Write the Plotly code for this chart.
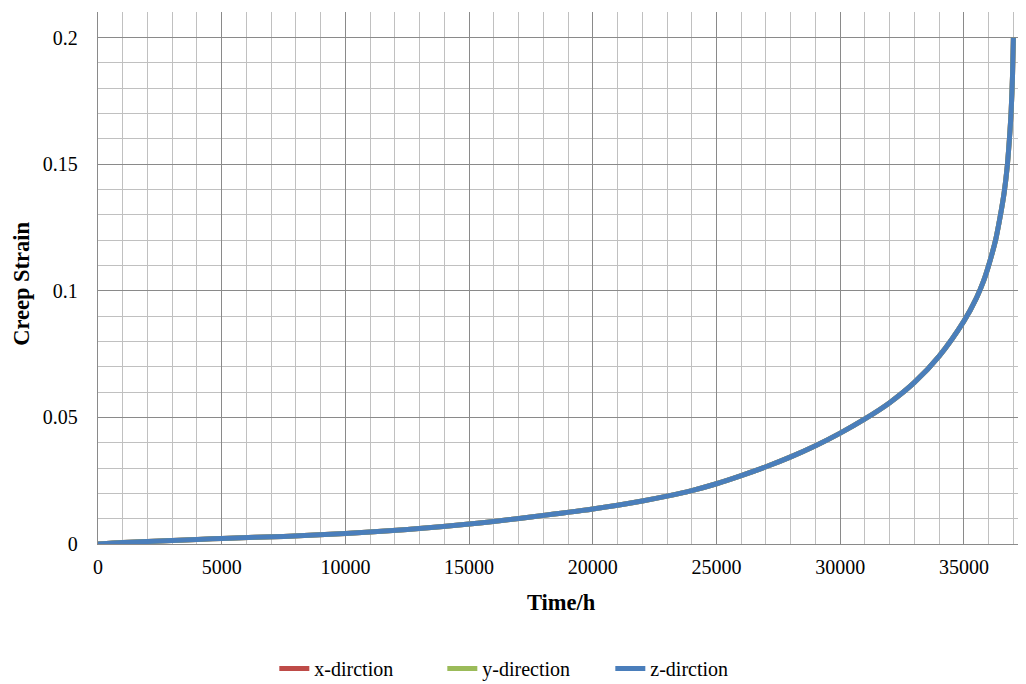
import plotly.graph_objects as go

# Time (h)
time_h = [0, 1000, 2000, 3000, 4000, 5000, 7500, 10000, 12500, 15000, 17500,
          20000, 22000, 23000, 24000, 25000, 26000, 27000, 28000, 29000, 30000,
          31000, 32000, 33000, 34000, 35000, 35500, 35800, 36030, 36280,
          36460, 36630, 36750, 36840, 36910, 36965, 37000]

# Creep strain per direction (curves coincide in the reference)
x_strain = [0, 0.0006, 0.0010, 0.0014, 0.0018, 0.0022, 0.0030, 0.0041, 0.0057,
            0.0079, 0.0107, 0.0138, 0.0170, 0.0189, 0.0211, 0.0238, 0.0270,
            0.0305, 0.0344, 0.0388, 0.0438, 0.0494, 0.0558, 0.0638, 0.0742,
            0.0880, 0.0970, 0.1040, 0.1110, 0.1200, 0.1290, 0.1390, 0.1490,
            0.1600, 0.1710, 0.1850, 0.2000]
y_strain = list(x_strain)
z_strain = list(x_strain)

series_names = ["x-dirction", "y-direction", "z-dirction"]
series_colors = ["#BE4B48", "#9BBB59", "#4A7EBB"]

x_title = "Time/h"
y_title = "Creep Strain"

fig = go.Figure()
for name, vals, col in zip(series_names, [x_strain, y_strain, z_strain], series_colors):
    fig.add_trace(go.Scatter(x=time_h, y=vals, mode="lines", name=name,
                             line=dict(color=col, width=5, shape="spline", smoothing=0.8)))

font_family = "Liberation Serif, Times New Roman, serif"

fig.update_layout(
    width=1026, height=684, autosize=False,
    margin=dict(l=90, r=8, t=4, b=146),
    paper_bgcolor="white", plot_bgcolor="white",
    font=dict(family=font_family, size=20, color="black"),
    showlegend=True,
    legend=dict(orientation="h", x=0.19, xanchor="left", y=-0.234, yanchor="middle",
                font=dict(size=20), itemwidth=30, entrywidth=123,
                entrywidthmode="pixels", traceorder="normal"),
    annotations=[
        dict(text="<b>" + x_title + "</b>", xref="paper", yref="paper",
             x=0.4995, y=-0.1105, xanchor="center", yanchor="middle",
             showarrow=False, font=dict(size=22.5)),
        dict(text="<b>" + y_title + "</b>", xref="paper", yref="paper",
             x=-0.0819, y=0.489, xanchor="center", yanchor="middle",
             textangle=-90, showarrow=False, font=dict(size=22.5)),
    ],
)

fig.update_xaxes(
    range=[0, 37510], dtick=5000, tick0=0, tickformat="d",
    showgrid=True, gridcolor="#8A8A8A", gridwidth=1.3,
    minor=dict(dtick=1000, tick0=0, showgrid=True, gridcolor="#C0C0C0", gridwidth=1.3),
    showline=True, linecolor="#8A8A8A", linewidth=1.3,
    zeroline=False, ticks="outside", ticklen=5, tickcolor="rgba(0,0,0,0)",
    tickfont=dict(size=20), automargin=False,
)
fig.update_yaxes(
    range=[0, 0.2101], dtick=0.05, tick0=0,
    showgrid=True, gridcolor="#8A8A8A", gridwidth=1.3,
    minor=dict(dtick=0.01, tick0=0, showgrid=True, gridcolor="#C0C0C0", gridwidth=1.3),
    showline=True, linecolor="#8A8A8A", linewidth=1.3,
    zeroline=False, ticks="outside", ticklen=15, tickcolor="rgba(0,0,0,0)",
    tickfont=dict(size=20), automargin=False,
)

fig.write_html("out.html")
